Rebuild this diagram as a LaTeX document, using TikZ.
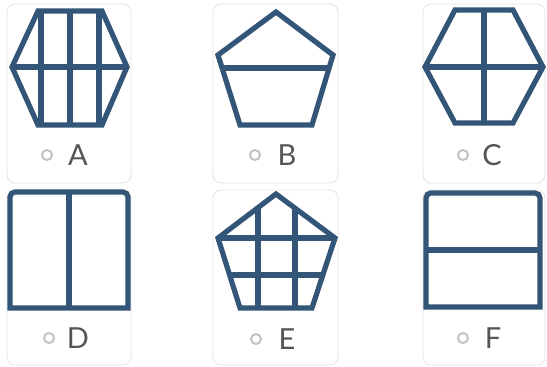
\documentclass[tikz,border=0pt]{standalone}
\usepackage{fontspec}
\newfontfamily\optfont{Lato}
\definecolor{frame}{RGB}{51,85,120}
\definecolor{cardline}{RGB}{226,226,226}
\definecolor{radio}{RGB}{195,195,195}
\definecolor{letter}{RGB}{85,85,85}

\begin{document}
\begin{tikzpicture}[x=1pt,y=-1pt,
  card/.style={draw=cardline,line width=0.8pt,rounded corners=8pt},
  figline/.style={draw=frame,line width=5.2pt,line join=miter},
  radiobtn/.style={circle,draw=radio,line width=2pt,minimum size=10pt,inner sep=0pt},
  optlabel/.style={font=\optfont\fontsize{29}{30}\selectfont,text=letter,inner sep=0pt}]
\useasboundingbox (0,0) rectangle (547,367);
% Cards
\draw[card] (7,4) rectangle (131,183);
\draw[card] (213,4) rectangle (338,183);
\draw[card] (423,4) rectangle (545,183);
\draw[card] (7,190) rectangle (131,365);
\draw[card] (213,190) rectangle (338,365);
\draw[card] (423,190) rectangle (545,365);
% A: hexagon, three verticals
\draw[figline] (12,67) -- (38,11) -- (102,11) -- (127,67) -- (102,125) -- (38,125) -- cycle;
\draw[figline] (12,67) -- (127,67);
\draw[figline] (41,11) -- (41,125);
\draw[figline] (70,11) -- (70,125);
\draw[figline] (99,11) -- (99,125);
% B: pentagon, one horizontal
\draw[figline] (276,12) -- (333,55) -- (312,125) -- (240,125) -- (218,55) -- cycle;
\draw[figline] (222,68) -- (329,68);
% C: hexagon, one cross
\draw[figline] (425,67) -- (455,10) -- (513,10) -- (543,67) -- (513,123) -- (455,123) -- cycle;
\draw[figline] (425,67) -- (543,67);
\draw[figline] (484,10) -- (484,123);
% D: rectangle, top corners rounded, one vertical
\draw[figline] (10,308) -- (10,197) arc[start angle=180,end angle=270,radius=5]
  -- (123,192) arc[start angle=270,end angle=360,radius=5] -- (128,308) -- cycle;
\draw[figline] (69,192) -- (69,308);
% E: pentagon, grid
\draw[figline] (276,194) -- (335,238) -- (312,308) -- (240,308) -- (218,238) -- cycle;
\draw[figline] (218,238) -- (335,238);
\draw[figline] (229,275) -- (323,275);
\draw[figline] (258,207) -- (258,308);
\draw[figline] (295,208) -- (295,308);
% F: rectangle, top corners rounded, one horizontal
\draw[figline] (426,307) -- (426,198) arc[start angle=180,end angle=270,radius=5]
  -- (535,193) arc[start angle=270,end angle=360,radius=5] -- (540,307) -- cycle;
\draw[figline] (426,250) -- (540,250);
% Options
\node[radiobtn] (radA) at (47,155) {};
\node[optlabel] (labA) at (78,155) {A};
\node[radiobtn] (radB) at (255,155) {};
\node[optlabel] (labB) at (287,155) {B};
\node[radiobtn] (radC) at (463,155) {};
\node[optlabel] (labC) at (492,155) {C};
\node[radiobtn] (radD) at (49,338) {};
\node[optlabel] (labD) at (78,338) {D};
\node[radiobtn] (radE) at (256,339) {};
\node[optlabel] (labE) at (287,339) {E};
\node[radiobtn] (radF) at (463,338) {};
\node[optlabel] (labF) at (493,338) {F};
\end{tikzpicture}
\end{document}
